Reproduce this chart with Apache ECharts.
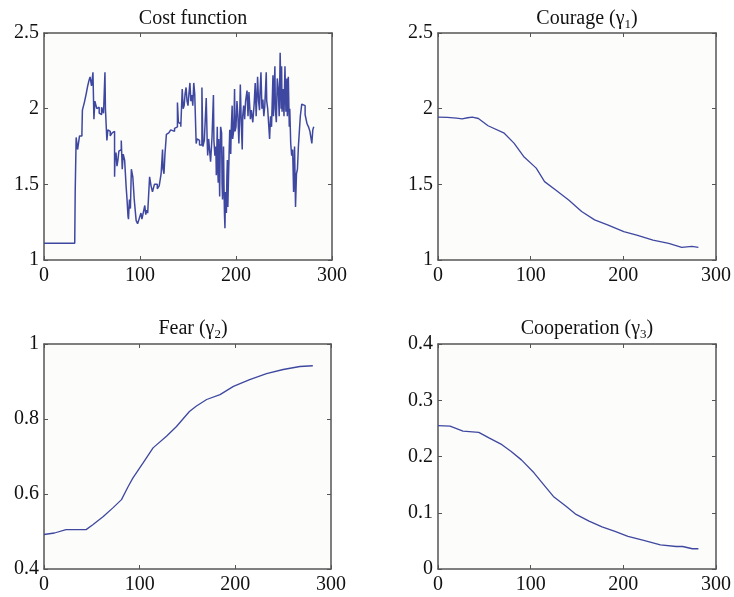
<!DOCTYPE html>
<html>
<head>
<meta charset="utf-8">
<script src="https://cdn.jsdelivr.net/npm/echarts@6/dist/echarts.min.js"></script>
<style>
  html, body { margin: 0; padding: 0; background: #fff; }
  #chart { width: 734px; height: 597px; }
</style>
</head>
<body>
<div id="chart"></div>
<script>
// 代价函数
const costData = [
  [0, 1.11], [32, 1.11], [32.5, 1.45], [33.5, 1.81], [35, 1.73], [37, 1.82], [39.5, 1.84], [40, 1.99],
  [42, 2.04], [44, 2.1], [45.5, 2.15], [47, 2.19], [48, 2.21], [49.5, 2.15], [51, 2.24], [52, 1.93],
  [53, 2.05], [54, 2.06], [55, 2.0], [56, 2.01], [57.5, 1.97], [59, 1.96], [60, 2.01], [61, 2.0],
  [62, 1.97], [63.5, 2.24], [64, 2.0], [65.5, 1.79], [66.5, 1.86], [68, 1.85], [69, 1.82], [70, 1.82],
  [71, 1.84], [72, 1.85], [73.5, 1.55], [74, 1.68], [75, 1.71], [76, 1.62], [77, 1.66], [78, 1.72],
  [79, 1.73], [80.5, 1.79], [81.5, 1.6], [82.5, 1.7], [84, 1.66], [85.5, 1.49], [86.5, 1.4], [87.5, 1.29],
  [88, 1.27], [89, 1.4], [90, 1.34], [91, 1.6], [92.5, 1.55], [93.5, 1.45], [94, 1.4], [95, 1.33],
  [96, 1.26], [97.5, 1.24], [99, 1.27], [100, 1.26], [101, 1.31], [102, 1.27], [103, 1.3], [104, 1.29],
  [105, 1.36], [106, 1.3], [107, 1.33], [108, 1.31], [109, 1.3], [110, 1.55], [111.5, 1.49], [113, 1.45],
  [114, 1.46], [115, 1.5], [117, 1.5], [118, 1.47], [120, 1.49], [122, 1.57], [123.5, 1.73], [124, 1.6],
  [125, 1.57], [126, 1.7], [127.5, 1.83], [129, 1.84], [130, 1.85], [132, 1.86], [134, 1.85], [136, 1.87],
  [137.5, 1.88], [139, 2.04], [140, 1.91], [141, 1.9], [142.5, 1.88], [144, 2.13], [145, 2.0], [146, 2.02],
  [147, 2.1], [148, 2.14], [149, 2.05], [150, 2.02], [151, 2.1], [152, 2.17], [153, 2.05], [154, 2.09],
  [155, 2.02], [156, 2.17], [157, 2.1], [157.5, 1.99], [158.5, 1.77], [159.5, 1.8], [161, 1.79], [162, 1.76],
  [163, 1.76], [164.5, 2.14], [165.5, 1.75], [167, 1.79], [168, 1.8], [169, 2.07], [170, 1.78], [170.5, 1.69],
  [171.5, 1.8], [172.5, 1.81], [173.5, 1.65], [174, 1.7], [175, 1.81], [176.5, 2.09], [177, 1.79], [178, 1.69],
  [179, 1.75], [179.5, 1.56], [180.5, 1.88], [181, 1.6], [181.5, 1.51], [182, 1.8], [183, 1.42], [183.5, 1.7],
  [184, 1.88], [185, 1.84], [185.5, 1.5], [186, 1.4], [187, 1.75], [187.5, 1.49], [188, 1.3], [188.5, 1.21],
  [189, 1.45], [190, 1.31], [190.5, 1.55], [191, 1.66], [191.5, 1.35], [192, 1.49], [193, 1.75], [193.5, 1.86],
  [194.5, 1.7], [195, 1.85], [196, 2.02], [196.5, 1.8], [197.5, 1.85], [198, 1.95], [198.5, 2.13], [199, 1.85],
  [200, 1.88], [201, 2.05], [202, 1.95], [203, 1.77], [204, 2.0], [204.5, 2.16], [205.5, 1.9], [206.5, 1.73],
  [207, 1.95], [208, 2.02], [209, 1.93], [210, 2.05], [211.5, 2.12], [212.5, 1.95], [213.5, 2.11], [215, 1.93],
  [216, 1.99], [217.5, 1.91], [219, 2.04], [220, 2.17], [221, 1.95], [222.5, 2.21], [223.5, 2.05], [224.5, 1.99],
  [225, 2.1], [226, 2.24], [227, 2.0], [228, 2.06], [229, 1.95], [230, 2.02], [231.5, 2.24], [232, 2.05],
  [233, 2.0], [234, 1.9], [235, 1.8], [236, 1.95], [237, 1.88], [238.5, 2.22], [239, 1.95], [240.5, 2.28],
  [241, 2.0], [242, 1.91], [243, 2.2], [244, 2.13], [245, 1.95], [246, 2.37], [247, 2.0], [247.5, 2.28],
  [248, 1.98], [249, 2.13], [250, 1.95], [251, 2.28], [252, 1.98], [253, 2.2], [253.5, 1.95], [254.5, 2.21],
  [255.5, 1.88], [256, 2.0], [257, 1.77], [258, 1.69], [259, 1.73], [260, 1.45], [260.5, 1.56], [261, 1.75],
  [262, 1.35], [263, 1.57], [264, 1.6], [265, 1.75], [266, 1.85], [267, 1.95], [268.5, 2.03], [270.5, 2.02],
  [272, 1.96], [274, 1.9], [275.5, 1.88], [277, 1.85], [279, 1.77], [280, 1.86], [281, 1.88]
];
// 勇气 γ1
const courageData = [
  [0, 1.944], [10, 1.942], [20, 1.937], [26, 1.933], [32, 1.94], [37, 1.944], [43.6, 1.935], [54, 1.887],
  [71.5, 1.838], [82, 1.772], [92.4, 1.684], [106, 1.607], [115, 1.518], [127, 1.463], [141, 1.397],
  [155, 1.32], [169, 1.265], [183, 1.232], [200.5, 1.187], [214.5, 1.165], [232, 1.132], [249, 1.11],
  [263, 1.084], [274, 1.09], [281, 1.084]
];
// 恐惧 γ2
const fearData = [
  [0, 0.492], [11, 0.496], [23, 0.505], [44, 0.505], [51, 0.518], [62, 0.54], [72, 0.563], [81, 0.585],
  [88, 0.62], [93, 0.643], [103.6, 0.683], [114, 0.723], [128, 0.754], [138.5, 0.78], [152, 0.82],
  [159, 0.834], [170, 0.852], [184, 0.865], [198, 0.887], [215, 0.905], [232.6, 0.921], [250, 0.932],
  [267.5, 0.94], [281, 0.942]
];
// 合作 γ3
const coopData = [
  [0, 0.255], [13, 0.254], [27, 0.245], [44, 0.243], [55, 0.233], [69, 0.221], [79, 0.209], [90, 0.194],
  [103.6, 0.171], [114, 0.15], [124.5, 0.129], [138.5, 0.111], [149, 0.097], [163, 0.085], [177, 0.075],
  [191, 0.067], [205, 0.058], [222, 0.051], [240, 0.043], [257, 0.04], [264, 0.04], [274.5, 0.036], [281, 0.036]
];

const titles = ['Cost function', 'Courage (γ{s|1})', 'Fear (γ{s|2})', 'Cooperation (γ{s|3})'];
const yRanges = [[1, 2.5, 0.5], [1, 2.5, 0.5], [0.4, 1, 0.2], [0, 0.4, 0.1]];
const seriesData = [costData, courageData, fearData, coopData];

const grids = [
  { left: 44, top: 33, width: 288, height: 227 },
  { left: 438, top: 33, width: 287, height: 227 },
  { left: 44, top: 344, width: 287, height: 225 },
  { left: 438, top: 344, width: 287, height: 225 }
];
const titlePos = [[188, 3], [582, 3], [188, 313], [582, 313]];

const font = 'Liberation Serif';
const lineColor = '#3f48a0';
const boxColor = '#555';

const chart = echarts.init(document.getElementById('chart'));

let xAxes = [], yAxes = [], series = [], title = [];
grids.forEach((g, i) => {
  g.show = true;
  g.backgroundColor = '#fcfcfa';
  g.borderWidth = 0;
  g.containLabel = false;

  const common = {
    gridIndex: i,
    axisLine: { show: true, onZero: false, lineStyle: { color: boxColor, width: 1.5 } },
    axisTick: { show: true, inside: true, length: 4, lineStyle: { color: boxColor, width: 1 } },
    splitLine: { show: false }
  };
  const labelStyle = { fontFamily: font, fontSize: 20, color: '#111' };

  xAxes.push(Object.assign({}, common, {
    type: 'value', position: 'bottom', min: 0, max: 300, interval: 100,
    axisLabel: Object.assign({ margin: 6 }, labelStyle)
  }));
  xAxes.push(Object.assign({}, common, {
    type: 'value', position: 'top', min: 0, max: 300, interval: 100,
    axisLabel: { show: false }
  }));
  const r = yRanges[i];
  yAxes.push(Object.assign({}, common, {
    type: 'value', position: 'left', min: r[0], max: r[1], interval: r[2],
    axisLabel: Object.assign({ margin: 5 }, labelStyle)
  }));
  yAxes.push(Object.assign({}, common, {
    type: 'value', position: 'right', min: r[0], max: r[1], interval: r[2],
    axisLabel: { show: false }
  }));

  series.push({
    type: 'line',
    xAxisIndex: i * 2,
    yAxisIndex: i * 2,
    data: seriesData[i],
    step: i === 0 ? 'end' : false,
    showSymbol: false,
    symbol: 'none',
    lineStyle: { color: lineColor, width: i === 0 ? 1.5 : 1.3 },
    animation: false
  });

  title.push({
    text: titles[i],
    left: titlePos[i][0],
    top: titlePos[i][1],
    textAlign: 'center',
    textStyle: {
      fontFamily: font, fontSize: 20, fontWeight: 'normal', color: '#111',
      verticalAlign: 'top', lineHeight: 22,
      rich: {
        s: { fontFamily: font, fontSize: 13, color: '#111', verticalAlign: 'top', lineHeight: 13, padding: [10, 0, 0, 0] }
      }
    }
  });
});

chart.setOption({
  animation: false,
  backgroundColor: '#fff',
  title: title,
  grid: grids,
  xAxis: xAxes,
  yAxis: yAxes,
  series: series
});
</script>
</body>
</html>
